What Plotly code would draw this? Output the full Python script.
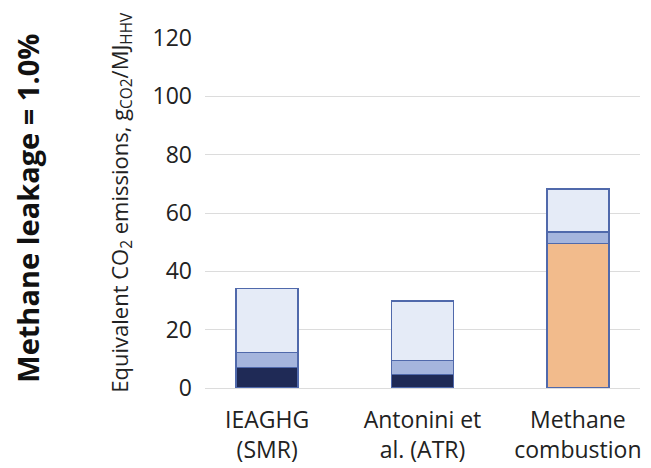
import plotly.graph_objects as go

categories = ["IEAGHG<br>(SMR)", "Antonini et<br>al. (ATR)", "Methane<br>combustion"]
bottom_vals = [7.1, 4.6, 49.5]
middle_vals = [5.0, 4.8, 4.0]
top_vals = [22.1, 20.4, 14.7]
bottom_colors = ["#1f2a56", "#1f2a56", "#f2bb8c"]
y_ticks = [0, 20, 40, 60, 80, 100, 120]

x = [0, 1, 2]
line = dict(color="#5069ab", width=1.5)
fig = go.Figure()
fig.add_bar(x=x, y=bottom_vals, marker=dict(color=bottom_colors, line=line), width=0.4)
fig.add_bar(x=x, y=middle_vals, marker=dict(color="#a5b5dd", line=line), width=0.4)
fig.add_bar(x=x, y=top_vals, marker=dict(color="#e5ebf7", line=line), width=0.4)

fig.update_layout(
    barmode="stack",
    width=643, height=460,
    margin=dict(l=197, r=11, t=30, b=80),
    paper_bgcolor="white", plot_bgcolor="white",
    showlegend=False,
    font=dict(family="Open Sans", color="#222222"),
    xaxis=dict(range=[-0.4, 2.4], tickvals=x, ticktext=categories,
               tickfont=dict(size=23), showgrid=False, showline=False, ticks="",
               ticklabelstandoff=16, automargin=False),
    yaxis=dict(range=[0, 120], tickvals=y_ticks, tickfont=dict(size=23),
               showgrid=True, gridcolor="#dcdcdc", gridwidth=1,
               zeroline=True, zerolinecolor="#dcdcdc", zerolinewidth=1,
               showline=False, ticks="", ticklabelstandoff=12, automargin=False),
    annotations=[
        dict(text="Equivalent CO<sub>2</sub> emissions, g<sub>CO2</sub>/MJ<sub>HHV</sub>",
             xref="paper", yref="paper", x=-0.195, y=0.53, textangle=-90,
             showarrow=False, font=dict(size=22, family="Open Sans", color="#222222"),
             xanchor="center", yanchor="middle"),
        dict(text="<b>Methane leakage = 1.0%</b>",
             xref="paper", yref="paper", x=-0.407, y=0.515, textangle=-90,
             showarrow=False, font=dict(size=29, family="Open Sans", color="#111111"),
             xanchor="center", yanchor="middle"),
    ],
)
fig.write_html("out.html")
